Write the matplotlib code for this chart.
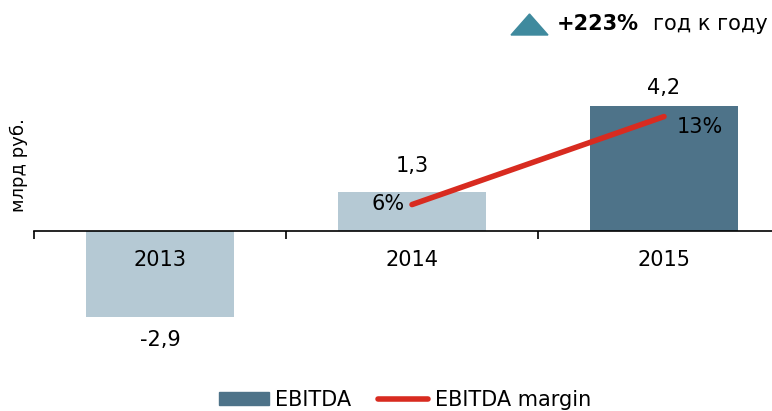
import matplotlib.pyplot as plt
from matplotlib.patches import Patch, Polygon
from matplotlib.lines import Line2D

years = ["2013", "2014", "2015"]
ebitda = [-2.9, 1.3, 4.2]
ebitda_labels = ["-2,9", "1,3", "4,2"]
margin_years = [1, 2]
margin = [6, 13]
margin_labels = ["6%", "13%"]

light = "#b5c9d4"
dark = "#4e7389"
red = "#d82b20"
bar_colors = [light, light, dark]
label_offsets = [-0.8, 0.88, 0.62]

plt.rcParams["font.family"] = "DejaVu Sans"
fig = plt.figure(figsize=(7.72, 4.11), dpi=100)
ax = fig.add_axes([34 / 772, 1 - 370 / 411, 756 / 772, 310 / 411])
ax.set_xlim(-0.5, 2.5)
ax.set_ylim(-4.7, 5.76)

x = list(range(len(years)))
ax.bar(x, ebitda, width=0.59, color=bar_colors, zorder=2)

for s in ["top", "right", "left"]:
    ax.spines[s].set_visible(False)
ax.spines["bottom"].set_position(("data", 0))
ax.spines["bottom"].set_linewidth(1.2)
ax.spines["bottom"].set_zorder(3)
ax.set_xticks([-0.5, 0.5, 1.5, 2.5])
ax.set_xticklabels([])
ax.tick_params(axis="x", direction="out", length=6, width=1.2)
ax.set_yticks([])

fs = 15
for i, y in enumerate(years):
    ax.text(i, -0.98, y, ha="center", va="center", fontsize=fs, zorder=4)

for i, (v, lab) in enumerate(zip(ebitda, ebitda_labels)):
    ax.text(i, v + label_offsets[i], lab, ha="center", va="center", fontsize=fs)

ax2 = ax.twinx()
ax2.set_ylim(-7.16, 17.5)
ax2.axis("off")
ax2.plot(margin_years, margin, color=red, lw=4, solid_capstyle="round", zorder=5)
ax2.text(margin_years[0] - 0.03, margin[0] + 0.05, margin_labels[0],
         ha="right", va="center", fontsize=fs)
ax2.text(margin_years[1] + 0.05, margin[1] - 0.85, margin_labels[1],
         ha="left", va="center", fontsize=fs)

fig.text(19 / 772, 1 - 165 / 411, "млрд руб.", rotation=90, ha="center",
         va="center", fontsize=13)

# growth badge
tri = Polygon([(511 / 772, 1 - 35 / 411), (548 / 772, 1 - 35 / 411),
               (529.5 / 772, 1 - 14 / 411)], closed=True,
              transform=fig.transFigure, color="#3f8a9e")
fig.patches.append(tri)
fig.text(557 / 772, 1 - 24 / 411, "+223%", fontsize=fs, fontweight="bold",
         ha="left", va="center")
fig.text(768 / 772, 1 - 24 / 411, "год к году", fontsize=fs,
         ha="right", va="center")

handles = [Patch(color=dark), Line2D([0], [0], color=red, lw=4, solid_capstyle="round")]
fig.legend(handles, ["EBITDA", "EBITDA margin"], loc="center", ncol=2,
           bbox_to_anchor=(405 / 772, 1 - 400 / 411), frameon=False,
           fontsize=fs, handlelength=2.4, handleheight=0.55,
           columnspacing=1.3, handletextpad=0.3)

fig.savefig("out.png", dpi=100)
